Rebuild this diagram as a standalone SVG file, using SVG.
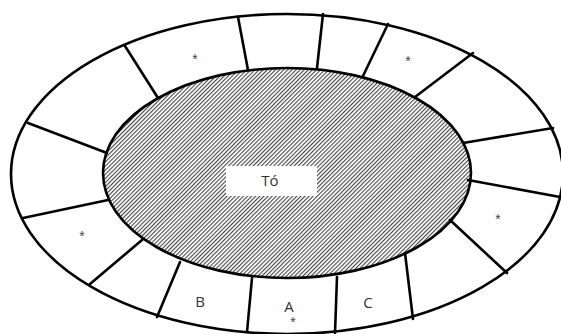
<svg xmlns="http://www.w3.org/2000/svg" width="561" height="334" viewBox="0 0 561 334">
<style>
.ln{stroke:#000;stroke-width:2.6;fill:none;stroke-linecap:round}
.lbl{font-family:"Open Sans","Liberation Sans",sans-serif;font-size:15px;fill:#333;text-anchor:middle}
.star{font-family:"Liberation Sans",sans-serif;font-size:14px;fill:#444;text-anchor:middle}
</style>
<defs>
<pattern id="hatch" patternUnits="userSpaceOnUse" width="2.9" height="6" patternTransform="rotate(45)">
<rect width="2.9" height="6" fill="#fff"/>
<line x1="0.6" y1="0" x2="0.6" y2="6" stroke="#333" stroke-width="1.0"/>
</pattern>
</defs>
<rect width="561" height="334" fill="#fff"/>
<g id="ring">
<ellipse class="ln" cx="287" cy="174" rx="276" ry="160"/>
</g>
<g id="lake">
<ellipse cx="287" cy="173" rx="184" ry="105" fill="url(#hatch)" stroke="#000" stroke-width="2.6"/>
<rect x="226" y="166" width="91" height="30" fill="#fff"/>
<text class="lbl" x="270" y="186">Tó</text>
</g>
<g id="connectors">
<line class="ln" x1="238" y1="17" x2="248" y2="70"/>
<line class="ln" x1="125" y1="46" x2="158" y2="98"/>
<line class="ln" x1="28" y1="123" x2="107" y2="153"/>
<line class="ln" x1="323" y1="14" x2="317" y2="68"/>
<line class="ln" x1="388" y1="24" x2="363" y2="76"/>
<line class="ln" x1="473" y1="53" x2="415" y2="97"/>
<line class="ln" x1="553" y1="128" x2="463" y2="143"/>
<line class="ln" x1="23" y1="218" x2="108" y2="200"/>
<line class="ln" x1="90" y1="284" x2="142" y2="240"/>
<line class="ln" x1="157" y1="317" x2="180" y2="262"/>
<line class="ln" x1="247" y1="332" x2="252" y2="278"/>
<line class="ln" x1="335" y1="333" x2="337" y2="277"/>
<line class="ln" x1="413" y1="319" x2="405" y2="253"/>
<line class="ln" x1="507" y1="273" x2="450" y2="220"/>
<line class="ln" x1="560" y1="197" x2="468" y2="180"/>
</g>
<g id="labels">
<text class="star" x="195" y="64">*</text>
<text class="star" x="408" y="66">*</text>
<text class="star" x="82" y="241">*</text>
<text class="star" x="498" y="224">*</text>
<text class="lbl" x="200" y="307">B</text>
<text class="lbl" x="289" y="312">A</text>
<text class="star" x="293" y="327">*</text>
<text class="lbl" x="368" y="308">C</text>
</g>
</svg>
